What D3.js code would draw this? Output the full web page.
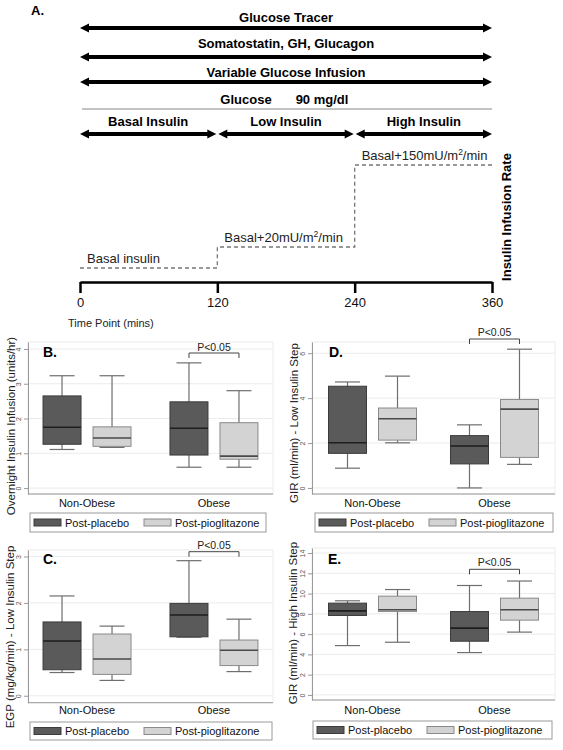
<!DOCTYPE html>
<html><head><meta charset="utf-8">
<script src="https://cdn.jsdelivr.net/npm/d3@7"></script>
<style>body{margin:0;background:#fff}svg{display:block;font-family:"Liberation Sans",Arial,sans-serif}</style>
</head><body><svg id="c" width="563" height="750"></svg>
<script>
// ---------- Data ----------
const timeTicks = [0, 120, 240, 360];
const fullSpans = ["Glucose Tracer", "Somatostatin, GH, Glucagon", "Variable Glucose Infusion"];
const phaseLabels = ["Basal Insulin", "Low Insulin", "High Insulin"];
const phaseStarts = [0, 120, 240];
const phaseEnds = [120, 240, 360];
const stepRates = [0, 20, 150];               // mU/m2/min above basal
const stepLabels = [["Basal insulin", "", ""], ["Basal+20mU/m", "2", "/min"], ["Basal+150mU/m", "2", "/min"]];

const groups = ["Non-Obese", "Obese"];
const seriesNames = ["Post-placebo", "Post-pioglitazone"];
// box stats: [lower whisker, Q1, median, Q3, upper whisker]; order: NonObese placebo, NonObese pio, Obese placebo, Obese pio
const overnightInsulin = [[1.11,1.26,1.75,2.65,3.23],[1.17,1.20,1.44,1.76,3.23],[0.60,0.95,1.72,2.48,3.60],[0.60,0.83,0.92,1.88,2.80]];
const egpLow = [[0.50,0.56,1.18,1.59,2.15],[0.33,0.46,0.79,1.33,1.50],[1.26,1.27,1.74,1.99,2.91],[0.52,0.65,0.98,1.20,1.65]];
const girLow = [[0.88,1.54,2.01,4.53,4.72],[2.01,2.13,3.08,3.56,4.98],[0.00,1.07,1.87,2.33,2.81],[1.05,1.36,3.51,3.94,6.18]];
const girHigh = [[4.87,7.84,8.30,9.06,9.29],[5.20,8.23,8.40,9.75,10.40],[4.18,5.30,6.59,8.23,10.80],[6.20,7.38,8.40,9.55,11.24]];
const ticksB = [0,1,2,3,4];
const ticksC = [0,1,2,3];
const ticksD = [0,2,4,6];
const ticksE = [0,2,4,6,8,10,12,14];
const sigLabel = "P<0.05";

// ---------- Panel A ----------
const svg = d3.select("#c");
const tx = d3.scaleLinear().domain([0, 360]).range([80, 492]);
const ty = d3.scaleLinear().domain([0, 20, 150]).range([268, 247, 165]);

svg.append("text").attr("x", 31).attr("y", 15).attr("font-size", 13).attr("font-weight", "bold").text("A.");

function dblArrow(x1, x2, y) {
  const h = 9, w = 4.5;
  svg.append("line").attr("x1", x1 + 4).attr("x2", x2 - 4).attr("y1", y).attr("y2", y)
    .attr("stroke", "#000").attr("stroke-width", 4);
  svg.append("path").attr("d", `M${x1},${y}L${x1+h},${y-w}L${x1+h},${y+w}Z`).attr("fill", "#000");
  svg.append("path").attr("d", `M${x2},${y}L${x2-h},${y-w}L${x2-h},${y+w}Z`).attr("fill", "#000");
}
const spanArrowY = [28, 57, 82], spanTextY = [22, 48, 77];
fullSpans.forEach((s, i) => {
  dblArrow(tx(0), tx(360), spanArrowY[i]);
  svg.append("text").attr("x", (tx(0) + tx(360)) / 2).attr("y", spanTextY[i]).attr("text-anchor", "middle")
    .attr("font-size", 13).attr("font-weight", "bold").text(s);
});
svg.append("line").attr("x1", tx(0) + 2).attr("x2", tx(360)).attr("y1", 109).attr("y2", 109).attr("stroke", "#888").attr("stroke-width", 1);
svg.append("text").attr("x", 246).attr("y", 104).attr("text-anchor", "middle").attr("font-size", 13).attr("font-weight", "bold").text("Glucose");
svg.append("text").attr("x", 322).attr("y", 104).attr("text-anchor", "middle").attr("font-size", 13).attr("font-weight", "bold").text("90 mg/dl");
phaseLabels.forEach((p, i) => {
  const a = tx(phaseStarts[i]) + (i ? 1 : 0), b = tx(phaseEnds[i]) - (i < 2 ? 1 : 0);
  dblArrow(a, b, 134);
  svg.append("text").attr("x", (a + b) / 2).attr("y", 126).attr("text-anchor", "middle")
    .attr("font-size", 13).attr("font-weight", "bold").text(p);
});

// insulin step line
let pts = [];
phaseStarts.forEach((s, i) => { pts.push([tx(s), ty(stepRates[i])]); pts.push([tx(phaseEnds[i]), ty(stepRates[i])]); });
svg.append("path").attr("d", d3.line()(pts)).attr("fill", "none").attr("stroke", "#777")
  .attr("stroke-width", 1.3).attr("stroke-dasharray", "4,3");
stepLabels.forEach((l, i) => {
  const t = svg.append("text").attr("x", tx(phaseStarts[i]) + 7).attr("y", ty(stepRates[i]) - 5)
    .attr("font-size", 13).attr("fill", "#222");
  t.append("tspan").text(l[0]);
  if (l[1]) {
    t.append("tspan").attr("font-size", 8.5).attr("dy", -5).text(l[1]);
    t.append("tspan").attr("dy", 5).text(l[2]);
  }
});
svg.append("text").attr("transform", `translate(${tx(360) + 19},217) rotate(-90)`).attr("text-anchor", "middle")
  .attr("font-size", 13).attr("font-weight", "bold").text("Insulin Infusion Rate");

// time axis
const tAxis = svg.append("g").attr("transform", "translate(0,282)")
  .call(d3.axisBottom(tx).tickValues(timeTicks).tickSize(11).tickSizeOuter(0).tickFormat(d3.format("d")));
tAxis.select(".domain").attr("stroke", "#000").attr("stroke-width", 2.5);
tAxis.selectAll(".tick line").attr("stroke", "#000").attr("stroke-width", 2.5);
tAxis.selectAll(".tick text").attr("font-size", 13).attr("font-family", "Liberation Sans, Arial, sans-serif").attr("fill", "#111").attr("y", 16);
svg.append("text").attr("x", 68).attr("y", 327).attr("font-size", 11).attr("fill", "#222").text("Time Point (mins)");

// ---------- Box plot panels ----------
const panels = [
  {letter: "B.", data: overnightInsulin, ticks: ticksB, domain: [-0.17, 4.2], left: 28, right: 273, top: 342, bottom: 494, pad: 0.465,
   title: "Overnight Insulin Infusion (units/hr)", titleX: 11, titleY: 426, letterX: 43, letterY: 357,
   brY: 353, pY: 350.5, labY: 507, leg: [30, 513, 236, 19]},
  {letter: "D.", data: girLow, ticks: ticksD, domain: [-0.27, 6.5], left: 312, right: 555, top: 342, bottom: 494, pad: 0.496,
   title: "GIR (ml/min) - Low Insulin Step", titleX: 293.5, titleY: 423, letterX: 329, letterY: 357,
   brY: 339, pY: 336, labY: 507, leg: [315, 513, 238, 19]},
  {letter: "C.", data: egpLow, ticks: ticksC, domain: [-0.15, 3.14], left: 28, right: 273, top: 550, bottom: 702.7, pad: 0.465,
   title: "EGP (mg/kg/min) - Low Insulin Step", titleX: 10, titleY: 637, letterX: 43, letterY: 564,
   brY: 551.7, pY: 549, labY: 714, leg: [30, 722, 242, 18]},
  {letter: "E.", data: girHigh, ticks: ticksE, domain: [-0.5, 14.5], left: 312, right: 555, top: 548, bottom: 700, pad: 0.496,
   title: "GIR (ml/min) - High Insulin Step", titleX: 293, titleY: 623, letterX: 328, letterY: 564,
   brY: 569.3, pY: 566, labY: 714, leg: [313, 721, 239, 18]}
];
const fills = ["#5a5a5a", "#d3d3d3"], strokes = ["#3c3c3c", "#8a8a8a"], medCol = ["#1e1e1e", "#4a4a4a"];

panels.forEach(p => {
  const g = svg.append("g");
  const y = d3.scaleLinear().domain(p.domain).range([p.bottom, p.top]);
  const xg = d3.scalePoint().domain(groups).range([p.left, p.right]).padding(p.pad);
  const xs = d3.scalePoint().domain(seriesNames).range([-25, 25]);
  // plot region
  g.append("rect").attr("x", p.left).attr("y", p.top).attr("width", p.right - p.left).attr("height", p.bottom - p.top)
    .attr("fill", "#fff").attr("stroke", "#ececec");
  g.selectAll(".grid").data(p.ticks).join("line").attr("x1", p.left).attr("x2", p.right)
    .attr("y1", d => y(d)).attr("y2", d => y(d)).attr("stroke", "#ebebeb").attr("stroke-width", 1);
  // y axis
  const ax = g.append("g").attr("transform", `translate(${p.left},0)`)
    .call(d3.axisLeft(y).tickValues(p.ticks).tickSize(4).tickSizeOuter(0).tickFormat(d3.format("d")));
  ax.select(".domain").attr("stroke", "#999");
  ax.selectAll(".tick line").attr("stroke", "#999");
  ax.selectAll(".tick text").attr("transform", "rotate(-90)").attr("x", 0).attr("y", -7).attr("dy", 0)
    .attr("text-anchor", "middle").attr("font-size", 7).attr("fill", "#555").attr("font-family", "Liberation Sans, Arial, sans-serif");
  // x axis line
  g.append("line").attr("x1", p.left).attr("x2", p.right).attr("y1", p.bottom).attr("y2", p.bottom).attr("stroke", "#999");
  // boxes
  groups.forEach((gr, gi) => {
    seriesNames.forEach((s, si) => {
      const d = p.data[gi * 2 + si];
      const cx = xg(gr) + xs(s);
      g.append("line").attr("x1", cx).attr("x2", cx).attr("y1", y(d[0])).attr("y2", y(d[4])).attr("stroke", "#6e6e6e").attr("stroke-width", 1.2);
      [d[0], d[4]].forEach(v => g.append("line").attr("x1", cx - 12.5).attr("x2", cx + 12.5).attr("y1", y(v)).attr("y2", y(v))
        .attr("stroke", "#6e6e6e").attr("stroke-width", 1.2));
      g.append("rect").attr("x", cx - 19).attr("width", 38).attr("y", y(d[3])).attr("height", y(d[1]) - y(d[3]))
        .attr("fill", fills[si]).attr("stroke", strokes[si]).attr("stroke-width", 1);
      g.append("line").attr("x1", cx - 19).attr("x2", cx + 19).attr("y1", y(d[2])).attr("y2", y(d[2]))
        .attr("stroke", medCol[si]).attr("stroke-width", 1.6);
    });
    g.append("text").attr("x", xg(gr)).attr("y", p.labY).attr("text-anchor", "middle").attr("font-size", 11).attr("fill", "#111").text(gr);
  });
  // significance bracket (Obese group)
  const b1 = xg("Obese") + xs(seriesNames[0]), b2 = xg("Obese") + xs(seriesNames[1]);
  g.append("path").attr("d", `M${b1},${p.brY + 5}V${p.brY}H${b2}V${p.brY + 5}`).attr("fill", "none").attr("stroke", "#444").attr("stroke-width", 1);
  g.append("text").attr("x", (b1 + b2) / 2).attr("y", p.pY).attr("text-anchor", "middle").attr("font-size", 10.5).attr("fill", "#222").text(sigLabel);
  // letter
  g.append("text").attr("x", p.letterX).attr("y", p.letterY).attr("font-size", 14).attr("font-weight", "bold").text(p.letter);
  // y title
  g.append("text").attr("transform", `translate(${p.titleX + 4},${p.titleY}) rotate(-90)`).attr("text-anchor", "middle")
    .attr("font-size", 11.5).attr("fill", "#222").text(p.title);
  // legend
  const [lx, ly, lw, lh] = p.leg;
  g.append("rect").attr("x", lx).attr("y", ly).attr("width", lw).attr("height", lh).attr("fill", "#fff").attr("stroke", "#9a9a9a");
  const offs = [[4, 35], [114, 145]];
  seriesNames.forEach((s, si) => {
    g.append("rect").attr("x", lx + offs[si][0]).attr("y", ly + lh / 2 - 3.5).attr("width", 27).attr("height", 7)
      .attr("fill", fills[si]).attr("stroke", strokes[si]);
    g.append("text").attr("x", lx + offs[si][1]).attr("y", ly + lh / 2 + 4).attr("font-size", 11).attr("fill", "#111").text(s);
  });
});
</script></body></html>
